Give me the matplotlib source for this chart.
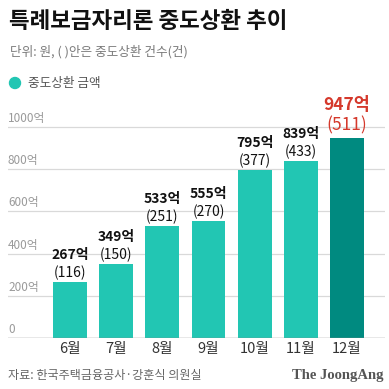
import matplotlib.pyplot as plt

plt.rcParams['font.family'] = ['Noto Sans CJK KR', 'DejaVu Sans']

months = ['6월', '7월', '8월', '9월', '10월', '11월', '12월']
amounts = [267, 349, 533, 555, 795, 839, 947]
counts = [116, 150, 251, 270, 377, 433, 511]
yticks = [0, 200, 400, 600, 800, 1000]
ytick_labels = ['0', '200억', '400억', '600억', '800억', '1000억']

W = 389.0
fig = plt.figure(figsize=(3.89, 3.89), dpi=100)
fig.patch.set_facecolor('white')

def fx(px):
    return px / W

def fy(py):
    return 1 - py / W

# axes box in pixels: x 8..385, y 100..338
ax = fig.add_axes([fx(8), fy(338), fx(385) - fx(8), fy(100) - fy(338)])
ax.set_xlim(-1.343, 6.823)
ax.set_ylim(0, 1128)
for s in ax.spines.values():
    s.set_visible(False)
ax.set_xticks([])
ax.set_yticks([])

for v, lab in zip(yticks, ytick_labels):
    if v == 0:
        ax.axhline(v, color='#8a8a8a', lw=1.0, zorder=3)
    else:
        ax.axhline(v, color='#d9d9d9', lw=0.9, zorder=0)
    ax.annotate(lab, (-1.343, v), xytext=(0, 2), textcoords='offset pixels',
                ha='left', va='bottom', fontsize=8.5, color='#9a9a9a')

colors = ['#22c6b3'] * (len(months) - 1) + ['#008a80']
x = list(range(len(months)))
ax.bar(x, amounts, width=0.736, color=colors, zorder=2)

for i, (a, c) in enumerate(zip(amounts, counts)):
    last = i == len(months) - 1
    col = '#d5392c' if last else '#111111'
    fs = 12.5 if last else 10
    off1 = 13 if last else 9
    off2 = 33 if last else 27
    ax.annotate(f'({c})', (i, a), xytext=(0, off1), textcoords='offset pixels',
                ha='center', va='center', fontsize=fs, color=col)
    ax.annotate(f'{a}억', (i, a), xytext=(0, off2), textcoords='offset pixels',
                ha='center', va='center', fontsize=fs, color=col,
                fontweight='bold')
    ax.annotate(months[i], (i, 0), xytext=(0, -11), textcoords='offset pixels',
                ha='center', va='center', fontsize=10.5, color='#333333')

fig.text(fx(9), fy(22), '특례보금자리론 중도상환 추이', fontsize=16.2,
         fontweight='bold', color='#111111', ha='left', va='center')
fig.text(fx(10), fy(52), '단위: 원, ( )안은 중도상환 건수(건)', fontsize=9.1,
         color='#7a7a7a', ha='left', va='center')
fig.patches.append(plt.Circle((fx(15), fy(83)), fx(5.5), transform=fig.transFigure,
                              color='#22c6b3', figure=fig))
fig.text(fx(28), fy(83), '중도상환 금액', fontsize=9.1,
         color='#555555', ha='left', va='center')
fig.text(fx(8), fy(375), '자료: 한국주택금융공사·강훈식 의원실', fontsize=8.7,
         color='#666666', ha='left', va='center')
fig.text(fx(383), fy(375), 'The JoongAng', fontsize=10.5, fontweight='bold',
         family='Liberation Serif', color='#555555', ha='right', va='center')

fig.savefig('out.png', dpi=100, facecolor='white')
